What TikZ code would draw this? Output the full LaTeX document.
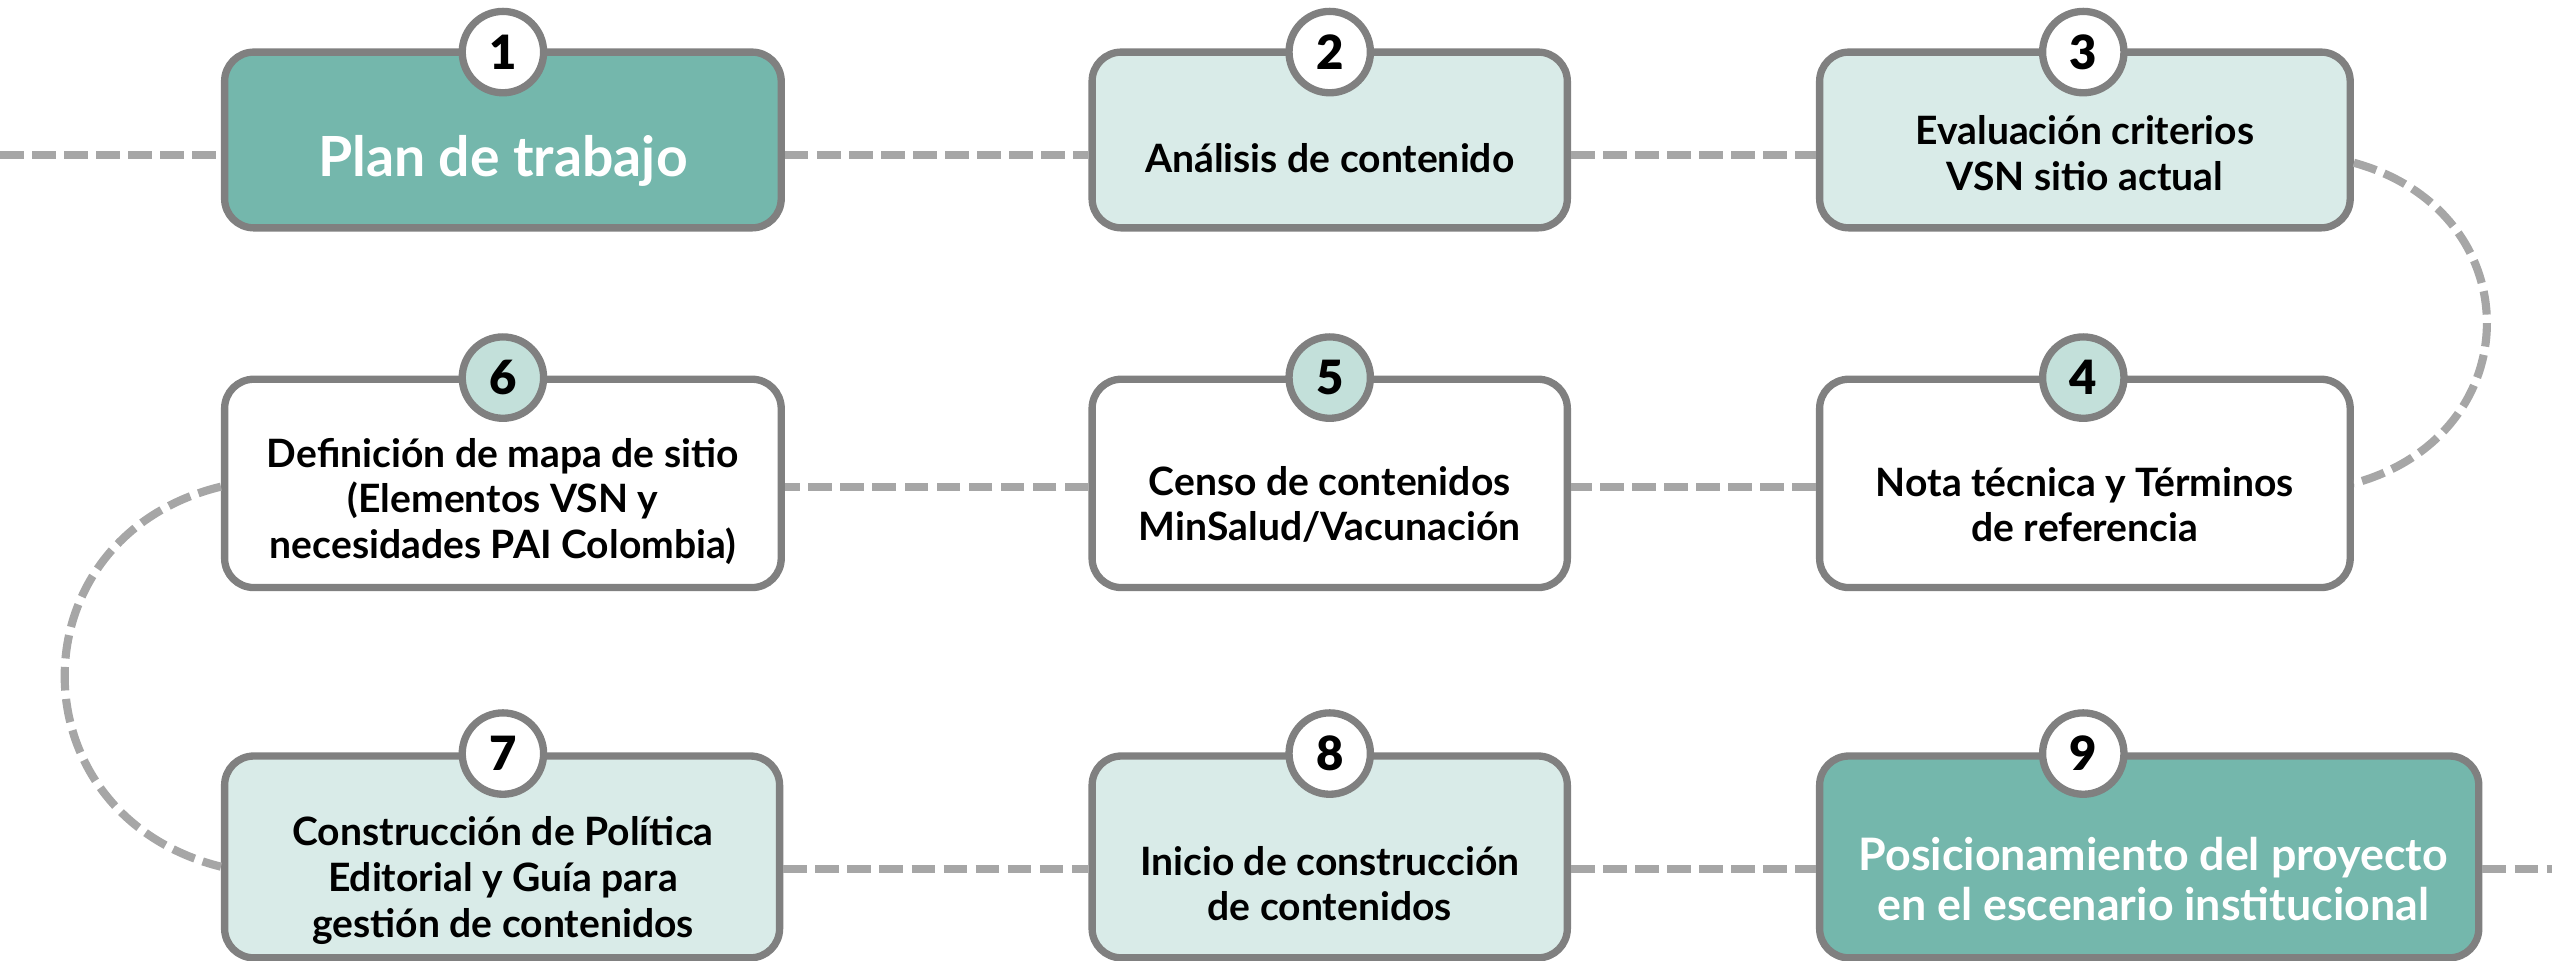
\documentclass[tikz,border=0pt]{standalone}
\usepackage{fontspec}
\setmainfont{Lato}
\newfontfamily\numfont{Lato Black}
\definecolor{darkteal}{HTML}{74B7AC}
\definecolor{lightteal}{HTML}{D9EBE8}
\definecolor{circteal}{HTML}{C3E0DA}
\definecolor{bordergray}{HTML}{808080}
\definecolor{dashgray}{HTML}{A6A6A6}
\begin{document}
\begin{tikzpicture}[x=1pt,y=-1pt,
  stepbox/.style={draw=bordergray, line width=4.5pt, rounded corners=18pt, rectangle, inner sep=0pt},
  darkbox/.style={stepbox, fill=darkteal},
  lightbox/.style={stepbox, fill=lightteal},
  whitebox/.style={stepbox, fill=white},
  numcirc/.style={circle, draw=bordergray, line width=4.5pt, minimum size=50pt, inner sep=0pt, font=\fontsize{29}{29}\selectfont\numfont},
  btext/.style={align=center, font=\fontsize{24}{28}\selectfont\bfseries, text=black},
  wtext/.style={align=center, font=\fontsize{27.5}{31}\selectfont\bfseries, text=white},
  dline/.style={draw=dashgray, line width=5pt, dash pattern=on 14.5pt off 5.2pt}
]
\useasboundingbox (0,0) rectangle (1568,590);

\coordinate (startL) at (0,95);
\coordinate (endR) at (1568,534);

% boxes
\node[darkbox, minimum width=342pt, minimum height=108pt] (b1) at (309,86) {};
\node[lightbox, minimum width=292pt, minimum height=108pt] (b2) at (817,86) {};
\node[lightbox, minimum width=326pt, minimum height=108pt] (b3) at (1281,86) {};
\node[whitebox, minimum width=342pt, minimum height=128pt] (b6) at (309,297) {};
\node[whitebox, minimum width=292pt, minimum height=128pt] (b5) at (817,297) {};
\node[whitebox, minimum width=326pt, minimum height=128pt] (b4) at (1281,297) {};
\node[lightbox, minimum width=341pt, minimum height=124pt] (b7) at (308.5,526.5) {};
\node[lightbox, minimum width=292pt, minimum height=124pt] (b8) at (817,526.5) {};
\node[darkbox, minimum width=405pt, minimum height=124pt] (b9) at (1320.5,526.5) {};

% dashed connectors
\draw[dline] (startL) -- (startL -| b1.west);
\draw[dline] ([yshift=-9pt]b1.east) -- ([yshift=-9pt]b2.west);
\draw[dline] ([yshift=-9pt]b2.east) -- ([yshift=-9pt]b3.west);
\draw[dline] ([yshift=-14pt]b3.east) .. controls +(109,30) and +(109,-30) .. ([yshift=0pt]b4.east);
\draw[dline] ([yshift=-2pt]b4.west) -- ([yshift=-2pt]b5.east);
\draw[dline] ([yshift=-2pt]b5.west) -- ([yshift=-2pt]b6.east);
\draw[dline] ([yshift=-2pt]b6.west) .. controls +(-128,31) and +(-128,-32) .. ([yshift=-6pt]b7.west);
\draw[dline] ([yshift=-7.5pt]b7.east) -- ([yshift=-7.5pt]b8.west);
\draw[dline] ([yshift=-7.5pt]b8.east) -- ([yshift=-7.5pt]b9.west);
\draw[dline] ([yshift=-7.5pt]b9.east) -- (endR);

% texts
\node[wtext, font=\fontsize{34}{34}\selectfont\bfseries] (t1) at (309,99) {Plan de trabajo};
\node[btext] (t2) at (817,97) {Análisis de contenido};
\node[btext] (t3) at (1281,94) {Evaluación criterios\\VSN sitio actual};
\node[btext] (t4) at (1281,310) {Nota técnica y Términos\\de referencia};
\node[btext] (t5) at (817,310) {Censo de contenidos\\MinSalud/Vacunación};
\node[btext] (t6) at (309,308) {Definición de mapa de sitio\\(Elementos VSN y\\necesidades PAI Colombia)};
\node[btext] (t7) at (309,541) {Construcción de Política\\Editorial y Guía para\\gestión de contenidos};
\node[btext] (t8) at (817,543) {Inicio de construcción\\de contenidos};
\node[wtext] (t9) at (1323,540) {Posicionamiento del proyecto\\en el escenario institucional};

% number circles
\node[numcirc, fill=white] (n1) at (309,32) {1};
\node[numcirc, fill=white] (n2) at (817,32) {2};
\node[numcirc, fill=white] (n3) at (1280,32) {3};
\node[numcirc, fill=circteal] (n4) at (1280,232) {4};
\node[numcirc, fill=circteal] (n5) at (817,232) {5};
\node[numcirc, fill=circteal] (n6) at (309,232) {6};
\node[numcirc, fill=white] (n7) at (309,463) {7};
\node[numcirc, fill=white] (n8) at (817,463) {8};
\node[numcirc, fill=white] (n9) at (1280,463) {9};
\end{tikzpicture}
\end{document}
